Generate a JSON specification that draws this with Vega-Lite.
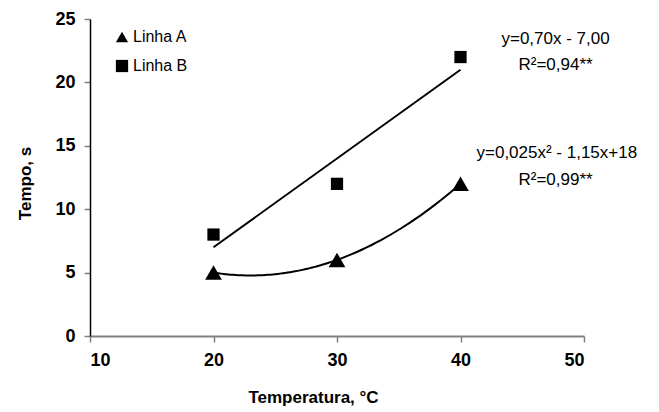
{
  "$schema": "https://vega.github.io/schema/vega-lite/v6.json",
  "width": 494,
  "height": 317,
  "autosize": {"type": "none"},
  "padding": {"left": 90, "top": 19, "right": 75, "bottom": 76},
  "background": "white",
  "config": {
    "view": {"stroke": null},
    "font": "Liberation Sans"
  },
  "datasets": {
    "pts": [
      {"temp": 20, "tempo": 5, "linha": "Linha A"},
      {"temp": 30, "tempo": 6, "linha": "Linha A"},
      {"temp": 40, "tempo": 12, "linha": "Linha A"},
      {"temp": 20, "tempo": 8, "linha": "Linha B"},
      {"temp": 30, "tempo": 12, "linha": "Linha B"},
      {"temp": 40, "tempo": 22, "linha": "Linha B"}
    ],
    "notes": [
      {"tx": 47.7, "ty": 23.42, "label": "y=0,70x - 7,00"},
      {"tx": 47.7, "ty": 21.37, "label": "R²=0,94**"},
      {"tx": 47.8, "ty": 14.42, "label": "y=0,025x² - 1,15x+18"},
      {"tx": 47.7, "ty": 12.29, "label": "R²=0,99**"}
    ]
  },
  "layer": [
    {
      "data": {"name": "pts"},
      "transform": [
        {"filter": "datum.linha === 'Linha B'"},
        {"regression": "tempo", "on": "temp", "method": "linear", "extent": [20, 40]}
      ],
      "mark": {"type": "line", "color": "black", "strokeWidth": 2},
      "encoding": {
        "x": {"field": "temp", "type": "quantitative"},
        "y": {"field": "tempo", "type": "quantitative"}
      }
    },
    {
      "data": {"name": "pts"},
      "transform": [
        {"filter": "datum.linha === 'Linha A'"},
        {"regression": "tempo", "on": "temp", "method": "poly", "order": 2, "extent": [20, 40]}
      ],
      "mark": {"type": "line", "color": "black", "strokeWidth": 2},
      "encoding": {
        "x": {"field": "temp", "type": "quantitative"},
        "y": {"field": "tempo", "type": "quantitative"}
      }
    },
    {
      "data": {"name": "pts"},
      "transform": [{"filter": "datum.linha === 'Linha B'"}],
      "mark": {"type": "point", "filled": true, "color": "black", "opacity": 1, "size": 150},
      "encoding": {
        "x": {"field": "temp", "type": "quantitative"},
        "y": {"field": "tempo", "type": "quantitative"},
        "shape": {"field": "linha", "type": "nominal"}
      }
    },
    {
      "data": {"name": "pts"},
      "transform": [{"filter": "datum.linha === 'Linha A'"}],
      "mark": {"type": "point", "filled": true, "color": "black", "opacity": 1, "size": 280},
      "encoding": {
        "x": {
          "field": "temp", "type": "quantitative",
          "scale": {"domain": [10, 50], "nice": false, "zero": false},
          "axis": {
            "values": [10, 20, 30, 40, 50],
            "title": "Temperatura, °C",
            "titleFont": "Liberation Sans",
            "titleFontSize": 17,
            "titleFontWeight": "bold",
            "titleColor": "black",
            "titleX": 223,
            "titleY": 61,
            "titleAlign": "center",
            "titleBaseline": "middle",
            "labelFont": "Liberation Sans",
            "labelFontSize": 18,
            "labelFontWeight": "bold",
            "labelColor": "black",
            "labelPadding": 9,
            "domainColor": "#808080",
            "domainWidth": 2,
            "tickColor": "#808080",
            "tickWidth": 1.5,
            "tickSize": 6,
            "grid": false
          }
        },
        "y": {
          "field": "tempo", "type": "quantitative",
          "scale": {"domain": [0, 25], "nice": false},
          "axis": {
            "values": [0, 5, 10, 15, 20, 25],
            "title": "Tempo, s",
            "titleFont": "Liberation Sans",
            "titleFontSize": 17,
            "titleFontWeight": "bold",
            "titleColor": "black",
            "titleX": -65,
            "titleY": 164,
            "titleAngle": -90,
            "titleAlign": "center",
            "titleBaseline": "middle",
            "labelFont": "Liberation Sans",
            "labelFontSize": 18,
            "labelFontWeight": "bold",
            "labelColor": "black",
            "labelPadding": 9,
            "domainColor": "black",
            "domainWidth": 1.5,
            "tickColor": "#808080",
            "tickWidth": 1.5,
            "tickSize": 6,
            "grid": false
          }
        },
        "shape": {
          "field": "linha", "type": "nominal",
          "scale": {"domain": ["Linha A", "Linha B"], "range": ["triangle-up", "square"]},
          "legend": {
            "title": null,
            "orient": "none",
            "legendX": 24,
            "legendY": 10,
            "labelFont": "Liberation Sans",
            "labelFontSize": 16,
            "labelColor": "black",
            "symbolFillColor": "black",
            "symbolStrokeColor": "black",
            "symbolOpacity": 1,
            "symbolSize": 150,
            "rowPadding": 10,
            "labelOffset": 3
          }
        }
      }
    },
    {
      "data": {"name": "notes"},
      "mark": {"type": "text", "font": "Liberation Sans", "fontSize": 17, "color": "black", "align": "center", "baseline": "middle"},
      "encoding": {
        "x": {"field": "tx", "type": "quantitative"},
        "y": {"field": "ty", "type": "quantitative"},
        "text": {"field": "label"}
      }
    }
  ]
}
